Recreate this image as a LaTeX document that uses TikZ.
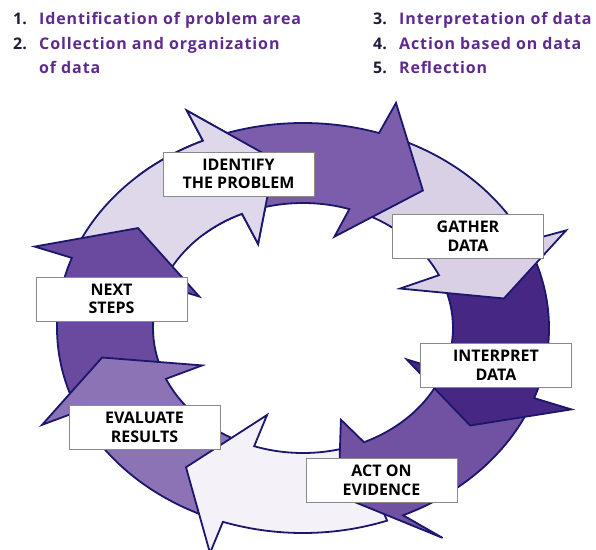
\documentclass[tikz,border=0pt]{standalone}
\usepackage{fontspec}
\setmainfont{Open Sans}
\usepackage{tikz}
\usetikzlibrary{positioning}

\definecolor{ringline}{HTML}{1A176C}
\definecolor{boxline}{HTML}{8A8A8A}
\definecolor{numcol}{HTML}{1E1E3A}
\definecolor{itemcol}{HTML}{5F2A8E}
\definecolor{identcol}{HTML}{DFD7EA}
\definecolor{topcol}{HTML}{7C5DAC}
\definecolor{gathcol}{HTML}{D9D0E6}
\definecolor{intcol}{HTML}{462784}
\definecolor{actcol}{HTML}{7152A2}
\definecolor{bottcol}{HTML}{F4F1F9}
\definecolor{evalcol}{HTML}{8B73B6}
\definecolor{nextcol}{HTML}{6A4A9E}

\begin{document}
\begin{tikzpicture}[x=1pt,y=1pt]
\tikzstyle{ring}=[draw=ringline,line width=1.8pt]
\tikzstyle{stage}=[draw=boxline,line width=0.9pt,fill=white,minimum width=151pt,minimum height=44pt,inner sep=0pt,align=center,text=black,font=\fontsize{16}{18.7}\selectfont\bfseries]
\tikzstyle{num}=[anchor=base west,inner sep=0pt,text=numcol,font=\fontsize{16}{20}\selectfont\bfseries]
\tikzstyle{item}=[anchor=base west,inner sep=0pt,text=itemcol,font=\fontsize{16}{20}\selectfont\bfseries\addfontfeatures{LetterSpace=5.5}]

\useasboundingbox (0,0) rectangle (596,549);

% the list at the top
\node[num]  (n1) at (13,524) {1.};
\node[item] (t1) at (39,524) {Identification of problem area};
\node[num]  (n2) at (13,499) {2.};
\node[item] (t2) at (39,499) {Collection and organization};
\node[item] (t2b) at ([yshift=-24pt]t2.base west) {of data};
\node[num]  (n3) at (373,524) {3.};
\node[item] (t3) at (399,524) {Interpretation of data};
\node[num]  (n4) at (373,499) {4.};
\node[item] (t4) at (399,499) {Action based on data};
\node[num]  (n5) at (373,475) {5.};
\node[item] (t5) at (399,475) {Reflection};

% the ring of arrows
\begin{scope}[shift={(303,221)},xscale=1.2]
  % identify (first pass)
  \draw[ring,fill=identcol] (156:205) arc[start angle=156,end angle=114,radius=205] -- (114:238) -- (98:170) -- (114:92) -- (114:125) arc[start angle=114,end angle=156,radius=125] -- cycle;
  % next steps
  \draw[ring,fill=nextcol] (200:205) arc[start angle=200,end angle=160,radius=205] -- (160:238) -- (144:170) -- (160:92) -- (160:125) arc[start angle=160,end angle=200,radius=125] -- cycle;
  % evaluate
  \draw[ring,fill=evalcol] (247:205) arc[start angle=247,end angle=204,radius=205] -- (204:238) -- (190:170) -- (204:92) -- (204:125) arc[start angle=204,end angle=247,radius=125] -- cycle;
  % bottom
  \draw[ring,fill=bottcol] (-70:205) arc[start angle=-70,end angle=-109,radius=205] -- (-109:238) -- (-125:170) -- (-109:92) -- (-109:125) arc[start angle=-109,end angle=-70,radius=125] -- cycle;
  % act
  \draw[ring,fill=actcol] (-24:205) arc[start angle=-24,end angle=-66,radius=205] -- (-61:240) -- (-80:170) -- (-71:97) -- (-66:125) arc[start angle=-66,end angle=-24,radius=125] -- cycle;
  % interpret
  \draw[ring,fill=intcol] (21:205) arc[start angle=21,end angle=-20,radius=205] -- (-20:238) -- (-35:170) -- (-20:92) -- (-20:125) arc[start angle=-20,end angle=21,radius=125] -- cycle;
  % gather
  \draw[ring,fill=gathcol] (68:205) arc[start angle=68,end angle=25,radius=205] -- (24:240) -- (10:170) -- (26:90) -- (25:125) arc[start angle=25,end angle=68,radius=125] -- cycle;
  % top
  \draw[ring,fill=topcol] (110:205) arc[start angle=110,end angle=72,radius=205] -- (71:238) -- (54:170) -- (74:95) -- (72:125) arc[start angle=72,end angle=110,radius=125] -- cycle;
  % identify again, only its head, over the tail of the top arrow
  \begin{scope}
    \clip (0,0) -- (132:330) -- (80:330) -- cycle;
    \draw[ring,fill=identcol] (156:205) arc[start angle=156,end angle=114,radius=205] -- (114:238) -- (98:170) -- (114:92) -- (114:125) arc[start angle=114,end angle=156,radius=125] -- cycle;
  \end{scope}
\end{scope}

% the boxes
\node[stage] (identify)  at (238.5,375) {IDENTIFY\\THE PROBLEM};
\node[stage] (gather)    at (468,313)   {GATHER\\DATA};
\node[stage] (interpret) at (496,184)   {INTERPRET\\DATA};
\node[stage] (act)       at (381.5,69)  {ACT ON\\EVIDENCE};
\node[stage] (evaluate)  at (144.5,121.5) {EVALUATE\\RESULTS};
\node[stage] (next)      at (111.5,250) {NEXT\\STEPS};

\end{tikzpicture}
\end{document}
